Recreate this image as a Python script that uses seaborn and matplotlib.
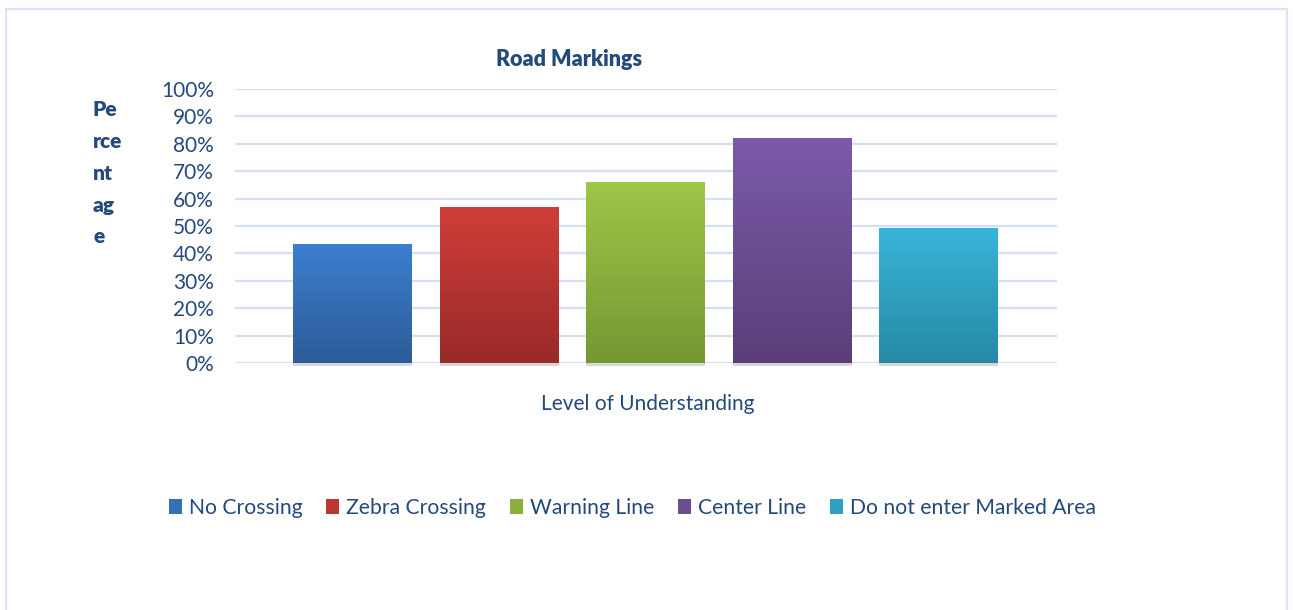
import numpy as np
import pandas as pd
import matplotlib
matplotlib.use("Agg")
import matplotlib.pyplot as plt
import seaborn as sns
from matplotlib.colors import LinearSegmentedColormap
from matplotlib.patches import Patch, Rectangle
from matplotlib.ticker import PercentFormatter
import matplotlib.patheffects as pe

# ---- data -------------------------------------------------------------
categories = ["No Crossing", "Zebra Crossing", "Warning Line",
              "Center Line", "Do not enter Marked Area"]
values = [0.433, 0.566, 0.659, 0.818, 0.488]
yticks = [0.0, 0.1, 0.2, 0.3, 0.4, 0.5, 0.6, 0.7, 0.8, 0.9, 1.0]
title = "Road Markings"
xlabel = "Level of Understanding"
ylabel_lines = ["Pe", "rce", "nt", "ag", "e"]

# gradient colours per bar: (top, bottom)
tops = ["#3d7fce", "#d03e38", "#9fc648", "#7c5aaa", "#38b4d8"]
bottoms = ["#2c5c98", "#982a29", "#759732", "#5b3e78", "#268aa5"]
mids = ["#3470b5", "#b93632", "#8bb03e", "#6c4d92", "#2fa0bf"]

text_color = "#24497c"
grid_color = "#d5e1f3"

sns.set_theme(style="white")
plt.rcParams["font.family"] = ["Lato", "DejaVu Sans"]

fig = plt.figure(figsize=(12.93, 6.10), dpi=100)
W, H = 1293, 610
ax = fig.add_axes([234.7 / W, 1 - 363.3 / H, 822 / W, 274.6 / H])

df = pd.DataFrame({"category": categories, "value": values})
sns.barplot(data=df, x="category", y="value", hue="category",
            palette=mids, width=0.81, legend=False, ax=ax, zorder=3,
            saturation=1)

# vertical gradient fill inside each bar plus a soft drop shadow
for i, patch in enumerate(ax.patches):
    x0, y0 = patch.get_x(), patch.get_y()
    w, h = patch.get_width(), patch.get_height()
    cmap = LinearSegmentedColormap.from_list(f"g{i}", [bottoms[i], tops[i]])
    grad = np.linspace(0, 1, 256).reshape(-1, 1)
    ax.imshow(grad, extent=[x0, x0 + w, y0, y0 + h], origin="lower",
              aspect="auto", cmap=cmap, zorder=4, interpolation="bicubic")
    patch.set_edgecolor("none")
    patch.set_clip_on(False)
    patch.set_path_effects([pe.SimplePatchShadow(offset=(0, -1.6),
                                                 shadow_rgbFace="#a8a8a8",
                                                 alpha=0.45),
                            pe.Normal()])

ax.set_xlim(-0.805, 4.805)
ax.set_ylim(0, 1.0)

ax.set_yticks(yticks)
ax.yaxis.set_major_formatter(PercentFormatter(1.0, decimals=0))
ax.tick_params(axis="y", length=0, pad=15, labelsize=15,
               labelcolor=text_color)
ax.set_xticks([])
ax.set_xlabel("")
ax.set_ylabel("")
ax.grid(axis="y", color=grid_color, linewidth=1.6, zorder=0)
ax.set_axisbelow(True)
for s in ax.spines.values():
    s.set_visible(False)

fig.text(569 / W, 1 - 59 / H, title, ha="center", va="center",
         fontsize=15.5, fontweight="heavy", color=text_color)
fig.text(648 / W, 1 - 404 / H, xlabel, ha="center", va="center",
         fontsize=15, color=text_color)
for k, part in enumerate(ylabel_lines):
    fig.text(93 / W, 1 - (110 + 31.7 * k) / H, part, ha="left", va="center",
             fontsize=15, fontweight="heavy", color=text_color)

handles = [Patch(facecolor=c, edgecolor="none") for c in mids]
fig.legend(handles, categories, loc="center", ncol=5,
           bbox_to_anchor=(632.5 / W, 1 - 508 / H), frameon=False,
           fontsize=15.2, labelcolor=text_color, handlelength=0.6,
           handleheight=0.75, handletextpad=0.35, columnspacing=1.12)

# outer chart frame (open at the bottom edge of the image)
fig.add_artist(Rectangle((6 / W, -0.05), (1287 - 6) / W, 1.05 - 9 / H,
                         transform=fig.transFigure, fill=False,
                         edgecolor="#dae4f4", linewidth=1.6))

fig.savefig("out.png", dpi=100, facecolor="white")
